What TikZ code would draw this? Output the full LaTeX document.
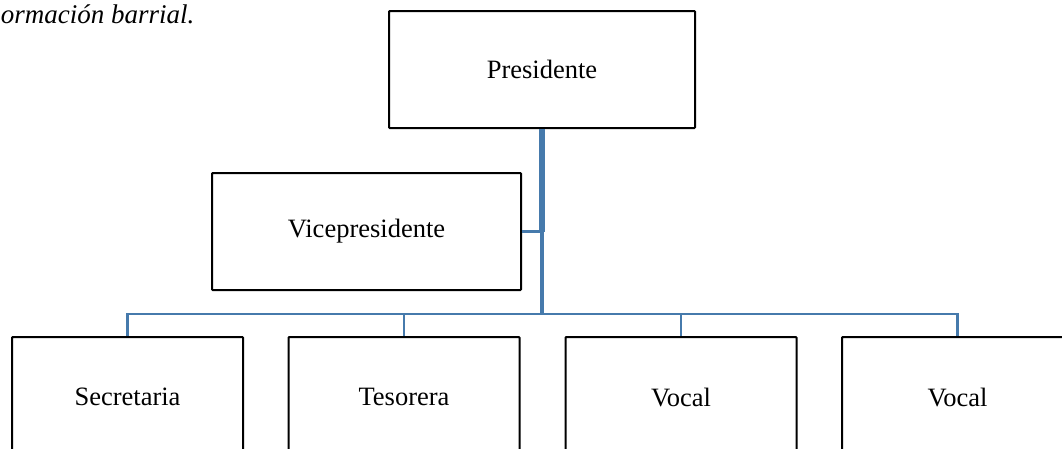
\documentclass[tikz,border=0pt]{standalone}
\usepackage{fontspec}
\setmainfont{Liberation Serif}
\definecolor{linkblue}{RGB}{70,122,172}
\begin{document}
\begin{tikzpicture}[x=1pt,y=-1pt,
  box/.style={draw=black,line width=2pt,fill=white,rounded corners=0.8pt,
    inner sep=0pt,font=\fontsize{26.5}{30}\selectfont},
  topbox/.style={box,minimum width=306pt,minimum height=117pt},
  lowbox/.style={box,minimum width=231pt,minimum height=120pt},
  trunk/.style={draw=linkblue,line width=5.5pt},
  link/.style={draw=linkblue,line width=2.8pt}]
\useasboundingbox (0,0) rectangle (1062,448);
\node[anchor=base east,font=\fontsize{27}{30}\selectfont\itshape] (cap) at (198,23) {ormación barrial.};
\node[topbox] (pres) at (542,69.5) {Presidente};
\node[topbox,minimum width=309pt] (vice) at (366.5,231.5) {Vicepresidente};
\node[lowbox] (b1) at (127.5,397) {Secretaria};
\node[lowbox] (b2) at (404,397) {Tesorera};
\node[lowbox] (b3) at (681,397) {Vocal};
\node[lowbox] (b4) at (957.5,397) {Vocal};
\coordinate (bus) at (542,314);
\coordinate (vj) at (pres.south |- vice.east);
\draw[link] (b1.north) -- (b1.north |- bus) -- (b4.north |- bus) -- (b4.north);
\draw[link] (b2.north) -- (b2.north |- bus);
\draw[link] (b3.north) -- (b3.north |- bus);
\draw[link] (vice.east) -- (vj);
\draw[link,line width=4pt] (vj) -- (bus);
\draw[trunk] (pres.south) -- (vj);
\end{tikzpicture}
\end{document}
